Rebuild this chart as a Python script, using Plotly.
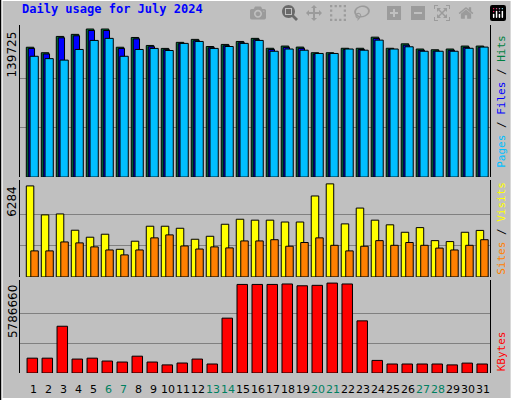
import plotly.graph_objects as go

days = list(range(1, 32))
weekend = [6, 7, 13, 14, 20, 21, 27, 28]
hits_max = 139725
visits_max = 6284
kb_max = 5786660
hits_f = [0.877,0.84,0.95,0.964,1.0,1.0,0.877,0.943,0.889,0.869,0.91,0.93,0.882,0.896,0.916,0.937,
          0.87,0.885,0.878,0.84,0.84,0.87,0.87,0.945,0.87,0.9,0.865,0.86,0.865,0.885,0.885]
pages_f = [0.816,0.80,0.79,0.862,0.923,0.937,0.816,0.862,0.869,0.855,0.903,0.916,0.869,0.882,0.903,0.923,
           0.85,0.865,0.857,0.835,0.835,0.865,0.857,0.925,0.865,0.88,0.85,0.85,0.85,0.87,0.878]
visits_f = [0.978,0.667,0.677,0.502,0.427,0.459,0.297,0.384,0.545,0.545,0.523,0.405,0.437,0.566,0.62,0.61,
            0.61,0.59,0.59,0.87,1.0,0.57,0.74,0.61,0.56,0.48,0.53,0.39,0.38,0.48,0.5]
sites_f = [0.28,0.28,0.376,0.366,0.323,0.29,0.237,0.29,0.42,0.452,0.333,0.30,0.323,0.312,0.387,0.387,
           0.40,0.33,0.37,0.42,0.34,0.28,0.33,0.39,0.34,0.37,0.34,0.31,0.29,0.34,0.40]
kb_f = [0.165,0.165,0.52,0.155,0.165,0.133,0.122,0.187,0.122,0.09,0.111,0.155,0.1,0.61,0.985,0.985,
        0.985,0.99,0.97,0.975,1.0,0.99,0.58,0.14,0.1,0.1,0.1,0.1,0.09,0.11,0.1]
hits = [round(f*hits_max) for f in hits_f]
files = [round(f*hits_max*0.99) for f in hits_f]
pages = [round(f*hits_max) for f in pages_f]
visits = [round(f*visits_max) for f in visits_f]
sites = [round(f*visits_max) for f in sites_f]
kbytes = [round(f*kb_max) for f in kb_f]

fig = go.Figure()
ln = dict(color='black', width=1)
def bar(y, color, off, w, ya):
    fig.add_trace(go.Bar(x=days, y=y, marker=dict(color=color, line=ln), offset=off, width=w,
                         xaxis='x', yaxis=ya, showlegend=False, hoverinfo='skip'))
bar(hits, '#008040', -0.45, 0.5, 'y')
bar(files, '#0000FF', -0.32, 0.42, 'y')
bar(pages, '#00BFFF', -0.2, 0.55, 'y')
bar(visits, '#FFFF00', -0.45, 0.5, 'y2')
bar(sites, '#FF8000', -0.15, 0.5, 'y2')
bar(kbytes, '#FF0000', -0.4, 0.7, 'y3')

def yax(dom, mx, scale):
    return dict(domain=dom, range=[0, mx*scale], tickvals=[mx/3, 2*mx/3], showticklabels=False,
                showgrid=True, gridcolor='#808080', gridwidth=1, zeroline=False,
                showline=True, linecolor='black', mirror=True, linewidth=1)
fig.update_layout(
    width=512, height=400, margin=dict(l=20, r=22, t=25, b=27),
    paper_bgcolor='#C0C0C0', plot_bgcolor='#C0C0C0', barmode='overlay',
    xaxis=dict(range=[0.13, 31.47], showticklabels=False, showgrid=False, zeroline=False, anchor='y3'),
    yaxis=yax([0.563, 1.0], hits_max, 151/147),
    yaxis2=yax([0.276, 0.555], visits_max, 97/93),
    yaxis3=yax([0.0, 0.267], kb_max, 93/90),
    font=dict(family='DejaVu Sans Mono', size=12),
)
fig.add_annotation(text='<b>Daily usage for July 2024</b>', xref='paper', yref='paper', x=0, y=1.045,
                   xanchor='left', yanchor='middle', showarrow=False,
                   font=dict(color='#0000FF', size=12, family='DejaVu Sans Mono'))
for lab, ya, mx in [(str(hits_max), 'y', hits_max), (str(visits_max), 'y2', visits_max), (str(kb_max), 'y3', kb_max)]:
    fig.add_annotation(text=lab, xref='paper', yref=ya, x=-0.016, y=mx*1.0, xanchor='center', yanchor='top',
                       textangle=-90, showarrow=False, font=dict(size=12, family='DejaVu Sans', color='black'))
def rlab(text, yc, ya='middle'):
    fig.add_annotation(text=text, xref='paper', yref='paper', x=1.024, y=yc, xanchor='center', yanchor=ya,
                       textangle=-90, showarrow=False, font=dict(size=11, family='DejaVu Sans Mono'))
rlab("<span style='color:#00BFFF'>Pages</span><span style='color:#000000'> / </span><span style='color:#0000FF'>Files</span><span style='color:#000000'> / </span><span style='color:#008040'>Hits</span>", 0.78)
rlab("<span style='color:#FF8000'>Sites</span><span style='color:#000000'> / </span><span style='color:#FFFF00'>Visits</span>", 0.415)
rlab("<span style='color:#FF0000'>KBytes</span>", 0.0, 'bottom')
for d in days:
    fig.add_annotation(text=str(d), x=d, xref='x', yref='paper', y=-0.022, yanchor='top', showarrow=False,
                       font=dict(size=11, family='DejaVu Sans', color='#008060' if d in weekend else 'black'))
fig.add_shape(type='rect', xref='paper', yref='paper', x0=-0.039, x1=1.046, y0=-0.075, y1=1.072,
              line=dict(color='white', width=2))
fig.add_shape(type='rect', xref='paper', yref='paper', x0=-0.042, x1=1.051, y0=-0.083, y1=1.075,
              line=dict(color='black', width=2))
fig.write_html('out.html', post_script="document.body.style.margin='0';document.body.style.padding='0';")
